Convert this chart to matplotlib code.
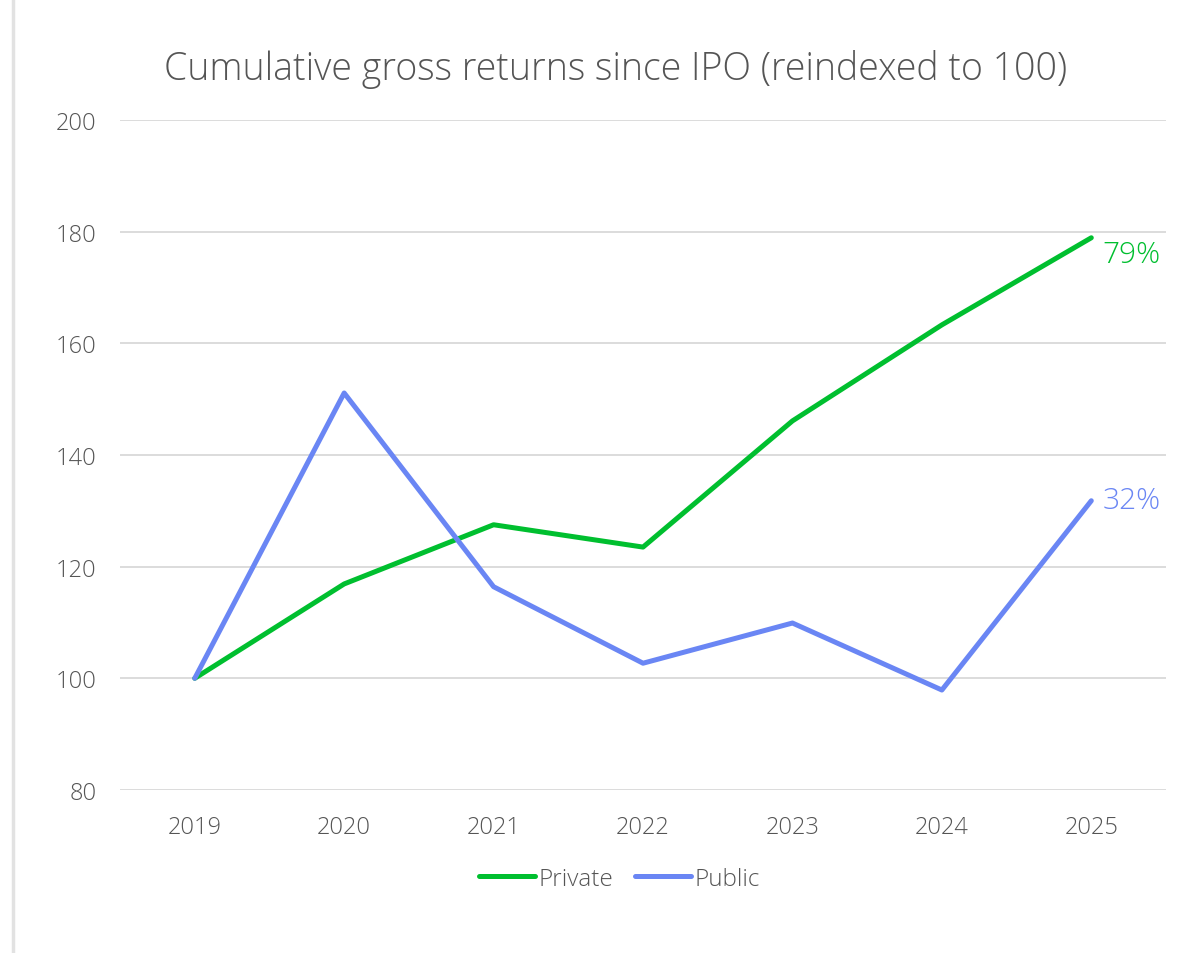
import matplotlib
matplotlib.use("Agg")
import matplotlib.pyplot as plt
from matplotlib.lines import Line2D

# data
years = ["2019", "2020", "2021", "2022", "2023", "2024", "2025"]
private = [100, 116.9, 127.5, 123.5, 146.1, 163.3, 178.9]
public = [100, 151.1, 116.4, 102.7, 109.9, 97.9, 131.8]
private_label = "79%"
public_label = "32%"
yticks = [80, 100, 120, 140, 160, 180, 200]

GREEN = "#00BF2F"
BLUE = "#6A86F4"
TEXT = "#555555"
GRID = "#d9d9d9"

plt.rcParams["font.family"] = ["Open Sans", "DejaVu Sans"]
plt.rcParams["font.weight"] = "light"

fig = plt.figure(figsize=(11.98, 9.54), dpi=100)
ax = fig.add_axes([0.1002, 0.1709, 0.8731, 0.7023])

x = list(range(len(years)))
ax.plot(x, private, color=GREEN, lw=3.6, solid_capstyle="round",
        solid_joinstyle="round", label="Private", zorder=3)
ax.plot(x, public, color=BLUE, lw=3.6, solid_capstyle="round",
        solid_joinstyle="round", label="Public", zorder=3)

ax.set_xlim(-0.5, len(years) - 0.5)
ax.set_ylim(80, 200)
ax.set_yticks(yticks)
ax.set_xticks(x)
ax.set_xticklabels(years)
ax.grid(axis="y", color=GRID, lw=1.3)
ax.set_axisbelow(True)
for s in ax.spines.values():
    s.set_visible(False)
ax.tick_params(length=0, labelsize=17, labelcolor=TEXT)
ax.tick_params(axis="y", pad=17)
ax.tick_params(axis="x", pad=18)

# end-of-line labels
ax.annotate(private_label, (x[-1], private[-1]), xytext=(8, -12),
            textcoords="offset points", va="center", ha="left",
            color=GREEN, fontsize=21.5)
ax.annotate(public_label, (x[-1], public[-1]), xytext=(8, 0),
            textcoords="offset points", va="center", ha="left",
            color=BLUE, fontsize=21.5)

fig.text(0.514, 0.927, "Cumulative gross returns since IPO (reindexed to 100)",
         ha="center", va="center", fontsize=27, color=TEXT)

leg = fig.legend(loc="center", bbox_to_anchor=(0.517, 0.078), ncol=2,
                 frameon=False, fontsize=17.5, handlelength=2.3,
                 handletextpad=0.15, columnspacing=0.9, labelcolor=TEXT)

# faint left border of the card
fig.add_artist(Line2D([0.0105, 0.0105], [0, 1], transform=fig.transFigure,
                      color="#e2e2e2", lw=2.5))

fig.savefig("out.png", dpi=100)
